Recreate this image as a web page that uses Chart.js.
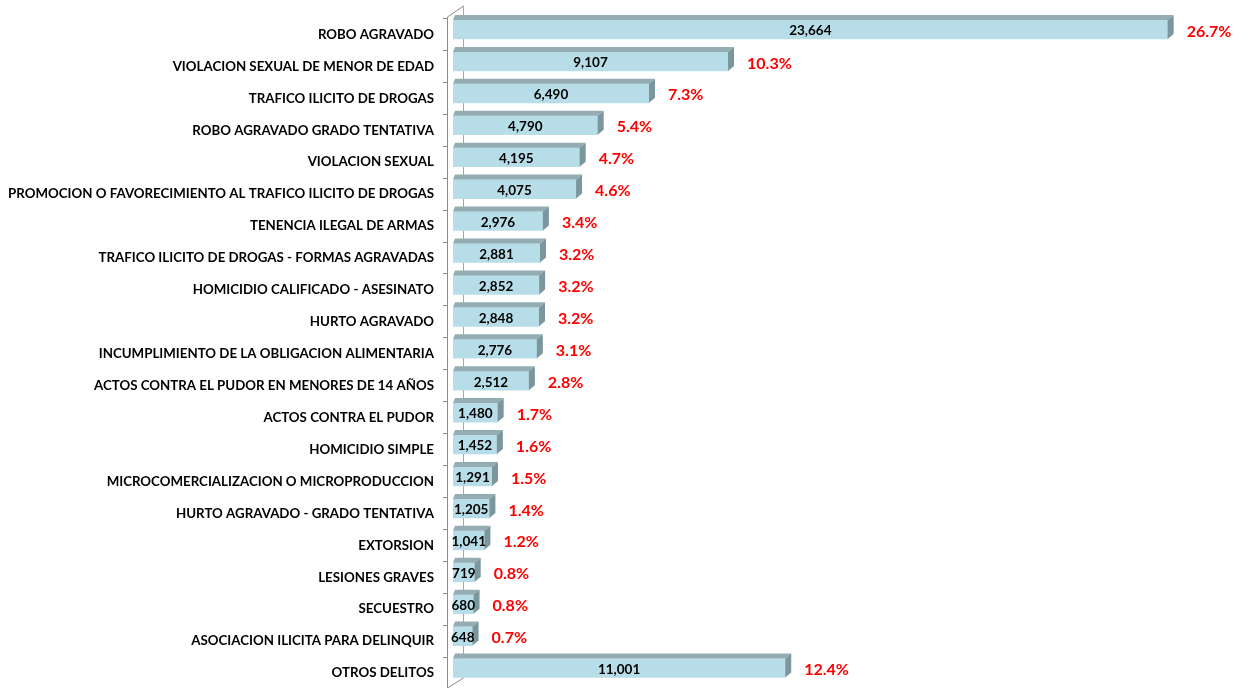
<!DOCTYPE html>
<html>
<head>
<meta charset="utf-8">
<script src="https://cdn.jsdelivr.net/npm/chart.js@4/dist/chart.umd.min.js"></script>
<style>
html,body{margin:0;padding:0;background:#fff;}
#wrap{width:1244px;height:688px;position:relative;}
</style>
</head>
<body>
<div id="wrap"><canvas id="c" width="1244" height="688"></canvas></div>
<script>
const categories = [
  "ROBO AGRAVADO",
  "VIOLACION SEXUAL DE MENOR DE EDAD",
  "TRAFICO ILICITO DE DROGAS",
  "ROBO AGRAVADO GRADO TENTATIVA",
  "VIOLACION SEXUAL",
  "PROMOCION O FAVORECIMIENTO AL TRAFICO ILICITO DE DROGAS",
  "TENENCIA ILEGAL DE ARMAS",
  "TRAFICO ILICITO DE DROGAS - FORMAS AGRAVADAS",
  "HOMICIDIO CALIFICADO - ASESINATO",
  "HURTO AGRAVADO",
  "INCUMPLIMIENTO DE LA OBLIGACION ALIMENTARIA",
  "ACTOS CONTRA EL PUDOR EN MENORES DE 14 AÑOS",
  "ACTOS CONTRA EL PUDOR",
  "HOMICIDIO SIMPLE",
  "MICROCOMERCIALIZACION O MICROPRODUCCION",
  "HURTO AGRAVADO - GRADO TENTATIVA",
  "EXTORSION",
  "LESIONES GRAVES",
  "SECUESTRO",
  "ASOCIACION ILICITA PARA DELINQUIR",
  "OTROS DELITOS"
];
const counts = [23664, 9107, 6490, 4790, 4195, 4075, 2976, 2881, 2852, 2848, 2776, 2512, 1480, 1452, 1291, 1205, 1041, 719, 680, 648, 11001];
const shares = [26.7, 10.3, 7.3, 5.4, 4.7, 4.6, 3.4, 3.2, 3.2, 3.2, 3.1, 2.8, 1.7, 1.6, 1.5, 1.4, 1.2, 0.8, 0.8, 0.7, 12.4];

const FONT = "Lato, 'Open Sans', 'DejaVu Sans', sans-serif";
const FRONT = "#B7DEE8";
const TOP = "#93ADB2";
const SIDE = "#7B969C";
const DX = 6, DY = 5;

const decor = {
  id: "decor",
  beforeDatasetsDraw(chart) {
    const ctx = chart.ctx, ca = chart.chartArea;
    const yScale = chart.scales.y;
    const n = categories.length;
    const band = (ca.bottom - ca.top) / n;
    ctx.save();
    ctx.strokeStyle = "#A6A6A6";
    ctx.lineWidth = 1;
    ctx.beginPath();
    ctx.moveTo(463.5, 6); ctx.lineTo(463.5, 678);
    ctx.stroke();
    ctx.strokeStyle = "#8C8C8C";
    ctx.beginPath();
    ctx.moveTo(447.5, 17); ctx.lineTo(447.5, 688);
    ctx.moveTo(447.5, 17); ctx.lineTo(463.5, 6);
    ctx.moveTo(463.5, 678); ctx.lineTo(447.5, 688);
    for (let k = 0; k <= n; k++) {
      const ty = Math.round(ca.top + 4.5 + k * band) + 0.5;
      ctx.moveTo(443, ty); ctx.lineTo(447.5, ty);
    }
    ctx.stroke();
    ctx.fillStyle = "#000";
    ctx.font = "bold 13.3px " + FONT;
    ctx.textAlign = "right";
    ctx.textBaseline = "middle";
    categories.forEach((c, i) => {
      const y = yScale.getPixelForValue(i) + 5;
      ctx.fillText(c, 434, y);
    });
    ctx.restore();
  },
  afterDatasetsDraw(chart) {
    const ctx = chart.ctx;
    const meta = chart.getDatasetMeta(0);
    ctx.save();
    meta.data.forEach((bar, i) => {
      const p = bar.getProps(["x", "y", "base", "height"], true);
      const x0 = p.base, x1 = p.x;
      const top = p.y - p.height / 2, bot = p.y + p.height / 2;
      ctx.fillStyle = TOP;
      ctx.beginPath();
      ctx.moveTo(x0, top); ctx.lineTo(x1, top);
      ctx.lineTo(x1 + DX, top - DY); ctx.lineTo(x0 + 2, top - DY);
      ctx.closePath(); ctx.fill();
      ctx.fillStyle = SIDE;
      ctx.beginPath();
      ctx.moveTo(x1, top); ctx.lineTo(x1 + DX, top - DY);
      ctx.lineTo(x1 + DX, bot - DY); ctx.lineTo(x1, bot);
      ctx.closePath(); ctx.fill();
      ctx.fillStyle = "#000";
      ctx.font = "bold 13.5px " + FONT;
      ctx.textAlign = "center";
      ctx.textBaseline = "middle";
      ctx.fillText(counts[i].toLocaleString("en-US"), (x0 + x1) / 2, p.y + 1.5);
      ctx.fillStyle = "#FF0000";
      ctx.font = "bold 16px " + FONT;
      ctx.textAlign = "left";
      ctx.fillText(shares[i].toFixed(1) + "%", x1 + 19, p.y + 2);
    });
    ctx.restore();
  }
};

new Chart(document.getElementById("c"), {
  type: "bar",
  data: {
    labels: categories,
    datasets: [{
      data: counts,
      backgroundColor: FRONT,
      borderWidth: 0,
      barThickness: 19
    }]
  },
  options: {
    indexAxis: "y",
    responsive: false,
    animation: false,
    events: [],
    layout: { padding: { left: 453, right: 36, top: 13.5, bottom: 4 } },
    scales: {
      x: { display: false, min: 0, max: 25000 },
      y: { display: false }
    },
    plugins: { legend: { display: false }, tooltip: { enabled: false } }
  },
  plugins: [decor]
});
</script>
</body>
</html>
